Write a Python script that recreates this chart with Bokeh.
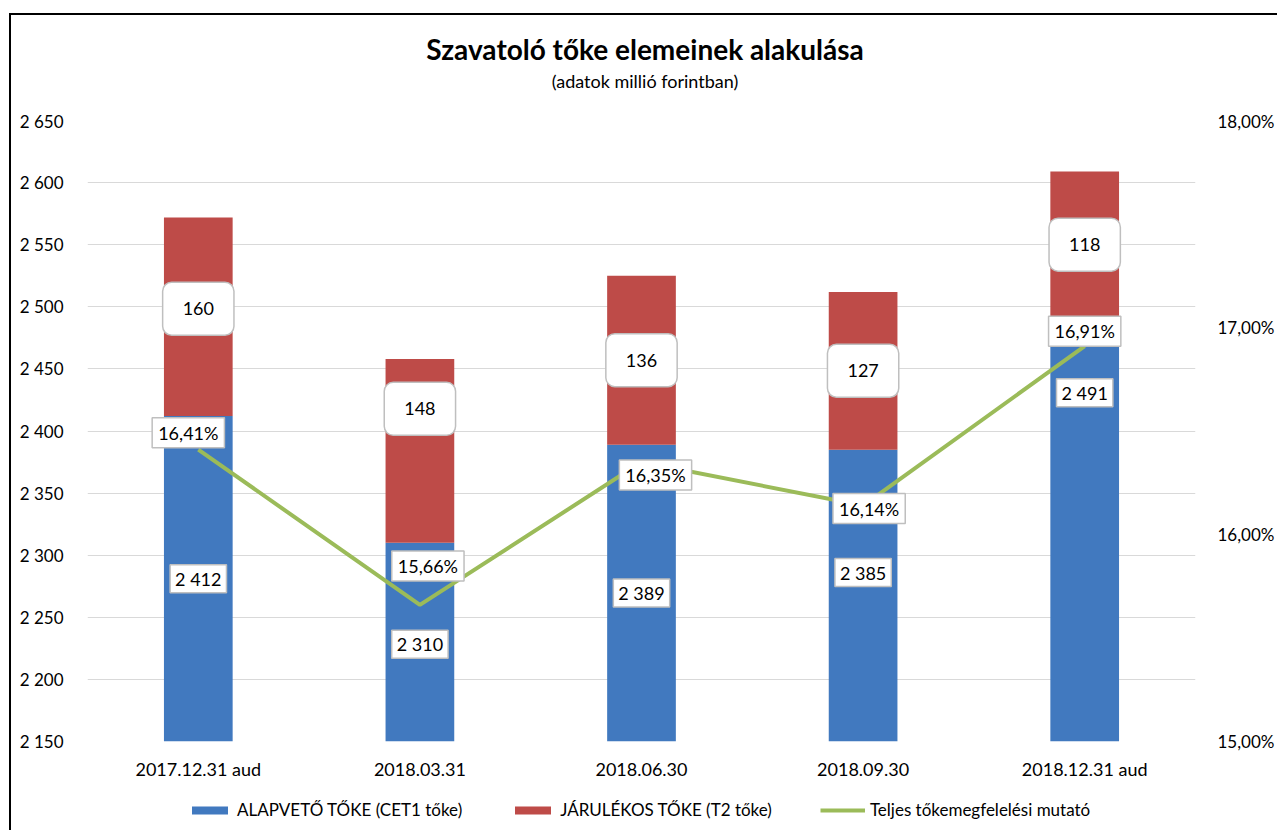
from bokeh.plotting import figure
from bokeh.layouts import column, row
from bokeh.models import (ColumnDataSource, FactorRange, Range1d, LinearAxis, Spacer,
                          CustomJSTickFormatter, SingleIntervalTicker, Legend, LegendItem)
from bokeh.core.properties import value
from bokeh.embed import file_html
from bokeh.resources import INLINE

# ---- data ----
title_text = "Szavatoló tőke elemeinek alakulása"
subtitle_text = "(adatok millió forintban)"
categories = ["2017.12.31 aud", "2018.03.31", "2018.06.30", "2018.09.30", "2018.12.31 aud"]
cet1 = [2412, 2310, 2389, 2385, 2491]          # ALAPVETŐ TŐKE (CET1 tőke)
t2 = [160, 148, 136, 127, 118]                 # JÁRULÉKOS TŐKE (T2 tőke)
ratio = [16.41, 15.66, 16.35, 16.14, 16.91]    # Teljes tőkemegfelelési mutató (%)
series_names = ["ALAPVETŐ TŐKE (CET1 tőke)", "JÁRULÉKOS TŐKE (T2 tőke)",
                "Teljes tőkemegfelelési mutató"]

# ---- label nudges (screen px, positive = up / right) ----
cet1_dy = [0, -2, 0, 23, 137]
t2_dy = [8, 42, 0, 0, 0]
pct_dx = [-10, 8, 14, 6, 0]
pct_dy = [17, 39, -13, -3, 15]

Y_MIN, Y_MAX = 2150, 2650
FONT = "Lato"
BLUE, RED, GREEN = "#4179BF", "#BE4B48", "#9BBB59"
W = 1266


def hu_int(v):
    return f"{v:,}".replace(",", " ")


src = ColumnDataSource(dict(
    cat=categories,
    cet1=cet1,
    t2=t2,
    total=[a + b for a, b in zip(cet1, t2)],
    ratio=ratio,
    cet1_mid=[(Y_MIN + a) / 2 for a in cet1],
    t2_mid=[a + b / 2 for a, b in zip(cet1, t2)],
    cet1_txt=[hu_int(v) for v in cet1],
    t2_txt=[hu_int(v) for v in t2],
    pct_txt=[f"{v:.2f}".replace(".", ",") + "%" for v in ratio],
    cet1_dy=[-d for d in cet1_dy], t2_dy=[-d for d in t2_dy],
    pct_dx=pct_dx, pct_dy=[-d for d in pct_dy],
))

# ---- title strip ----
t = figure(width=W, height=95, x_range=Range1d(0, W), y_range=Range1d(0, 95),
           x_axis_type=None, y_axis_type=None, toolbar_location=None,
           output_backend="svg", min_border=0, title=None)
t.outline_line_color = None
t.text(x=[637], y=[62], text=[title_text], text_align="center", text_baseline="middle",
       text_font=value(FONT), text_font_size="28px", text_font_style="bold",
       text_color="#000000")
t.text(x=[637], y=[30], text=[subtitle_text], text_align="center", text_baseline="middle",
       text_font=value(FONT), text_font_size="18px", text_color="#000000")

# ---- main chart ----
p = figure(x_range=FactorRange(factors=categories), y_range=Range1d(Y_MIN, Y_MAX),
           width=W, height=680, output_backend="svg", toolbar_location=None, title=None,
           min_border_left=76, min_border_right=82, min_border_top=10, min_border_bottom=49)
p.extra_y_ranges = {"pct": Range1d(15, 18)}
p.outline_line_color = None
p.xgrid.grid_line_color = None
p.ygrid.grid_line_color = "#D9D9D9"
p.ygrid.grid_line_width = 1

p.yaxis.ticker = SingleIntervalTicker(interval=50)
p.yaxis.formatter = CustomJSTickFormatter(
    code="return tick.toFixed(0).replace(/\\B(?=(\\d{3})+(?!\\d))/g, ' ');")
for ax in [p.yaxis[0], p.xaxis[0]]:
    ax.axis_line_color = None
    ax.major_tick_line_color = None
    ax.minor_tick_line_color = None
    ax.major_label_text_font = FONT
    ax.major_label_text_color = "#000000"
p.yaxis.major_label_text_font_size = "17px"
p.xaxis.major_label_text_font_size = "18px"
p.yaxis.major_label_standoff = 18
p.xaxis.major_label_standoff = 10

raxis = LinearAxis(y_range_name="pct", ticker=SingleIntervalTicker(interval=1),
                   formatter=CustomJSTickFormatter(
                       code="return tick.toFixed(2).replace('.', ',') + '%';"),
                   axis_line_color=None, major_tick_line_color=None, minor_tick_line_color=None,
                   major_label_text_font=FONT, major_label_text_font_size="17px",
                   major_label_text_color="#000000", major_label_standoff=16)
p.add_layout(raxis, "right")

p.vbar(x="cat", top="cet1", bottom=0, width=0.31, source=src,
       fill_color=BLUE, line_color=None)
p.vbar(x="cat", top="total", bottom="cet1", width=0.31, source=src,
       fill_color=RED, line_color=None)
p.line(x="cat", y="ratio", y_range_name="pct", source=src,
       line_color=GREEN, line_width=4)

common = dict(source=src, text_align="center", text_baseline="middle",
              text_font=value(FONT), text_font_size="18px", text_color="#000000",
              background_fill_color="white", border_line_color="#BFBFBF",
              border_line_width=1.5)
p.text(x="cat", y="cet1_mid", text="cet1_txt", y_offset="cet1_dy",
       padding=[5, 3], **common)
p.text(x="cat", y="t2_mid", text="t2_txt", y_offset="t2_dy",
       padding=[20, 20], border_radius=9, **common)
p.text(x="cat", y="ratio", text="pct_txt", y_range_name="pct",
       x_offset="pct_dx", y_offset="pct_dy", padding=[6, 4], **common)

# ---- legend strip (same series, drawn far out of view; only the legend shows) ----
q = figure(width=W, height=40, x_range=p.x_range, y_range=Range1d(1e6, 1e6 + 1),
           x_axis_type=None, y_axis_type=None, toolbar_location=None,
           output_backend="svg", min_border=0, title=None)
q.outline_line_color = None
q.grid.visible = False
lg1 = q.vbar(x="cat", top="cet1", bottom=0, width=0.31, source=src,
             fill_color=BLUE, line_color=None)
lg2 = q.vbar(x="cat", top="total", bottom="cet1", width=0.31, source=src,
             fill_color=RED, line_color=None)
lg3 = q.line(x="cat", y="ratio", source=src, line_color=GREEN, line_width=4)
legend = Legend(items=[LegendItem(label=series_names[0], renderers=[lg1]),
                       LegendItem(label=series_names[1], renderers=[lg2]),
                       LegendItem(label=series_names[2], renderers=[lg3])],
                orientation="horizontal", location=(100, 10), border_line_color=None,
                background_fill_alpha=0, glyph_width=45, glyph_height=10, label_standoff=5,
                spacing=48, label_text_font=FONT, label_text_font_size="17px",
                label_text_color="#000000", padding=0, margin=0)
q.add_layout(legend)

# ---- frame lines (chart border) ----
hline = Spacer(width=W + 2, height=2, styles={"background-color": "black"})
vline = Spacer(width=2, height=815, styles={"background-color": "black"})

layout = column(Spacer(height=13),
                row(Spacer(width=9), hline),
                row(Spacer(width=9), vline, column(t, p, q)))

open("out.html", "w").write(file_html(layout, INLINE))
